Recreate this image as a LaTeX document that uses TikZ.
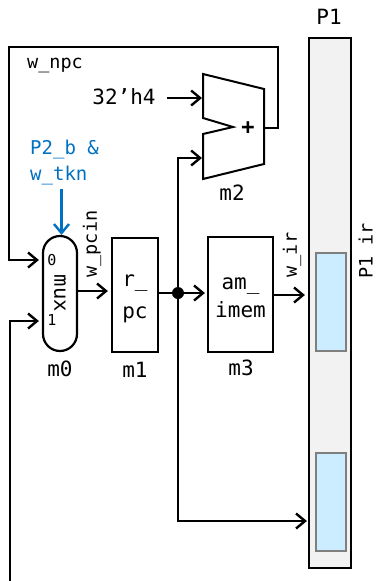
\documentclass[tikz,border=0pt]{standalone}
\usepackage{fontspec}
\setmonofont{DejaVu Sans Mono}
\usetikzlibrary{arrows.meta}
\definecolor{tknblue}{RGB}{0,112,192}
\definecolor{stagegray}{RGB}{242,242,242}
\definecolor{slotblue}{RGB}{204,236,255}
\definecolor{slotedge}{RGB}{127,127,127}
\tikzset{
  barbtip/.tip={Straight Barb[length=9pt,width=15pt,line width=2.4pt]},
  wire/.style={line width=2.3pt, -barbtip},
  thinwire/.style={line width=1.7pt, -barbtip},
  blockbox/.style={draw, line width=2.2pt, inner sep=0pt, align=center},
  slotbox/.style={draw=slotedge, fill=slotblue, line width=2.2pt, inner sep=0pt},
  lblsm/.style={font=\ttfamily\fontsize{18.5}{26}\selectfont, inner sep=0pt, align=left},
  lblbig/.style={font=\ttfamily\fontsize{21}{28}\selectfont, inner sep=0pt, align=center},
}
\begin{document}
\begin{tikzpicture}[x=1pt,y=-1pt]
  \useasboundingbox (0,0) rectangle (378,581);

  % Etapa P1
  \node[blockbox, fill=stagegray, minimum width=42pt, minimum height=530pt] (p1) at (330,303) {};
  \node[slotbox, minimum width=30pt, minimum height=98pt] (s1) at (331,302) {};
  \node[slotbox, minimum width=30pt, minimum height=98pt] (s2) at (331,502) {};
  \node[lblbig] (p1t) at (329,17) {P1};
  \node[lblsm, rotate=90] (p1ir) at (365.5,251) {P1 ir};

  % Bloques
  \node[blockbox, minimum width=46pt, minimum height=114pt] (m1) at (135,295) {};
  \node[lblbig, font=\ttfamily\fontsize{21}{32}\selectfont] (m1txt) at (135,299) {r\_\\pc};
  \node[blockbox, minimum width=65pt, minimum height=115pt] (m3) at (240.5,294.5) {};
  \node[lblbig] (m3txt) at (240.5,298) {am\_\\imem};
  \node[blockbox, rounded corners=17pt, minimum width=34pt, minimum height=115pt] (m0) at (60,293.5) {};
  \node[lblsm, font=\ttfamily\fontsize{20.5}{26}\selectfont, rotate=-90] (muxt) at (60,293.5) {mux};
  \node[font=\ttfamily\fontsize{15}{15}\selectfont, inner sep=0pt] (d0) at (52,260) {0};
  \node[font=\ttfamily\fontsize{15}{15}\selectfont, inner sep=0pt] (d1) at (52,320) {1};
  \node[lblbig] (m0t) at (60,369) {m0};
  \node[lblbig] (m1t) at (135,370) {m1};
  \node[lblbig] (m3t) at (241,368) {m3};

  % Sumador
  \draw[line width=2pt, line join=miter] (203,74) -- (264,89) -- (264,164) -- (203,179) -- (203,134)
    -- (233,127) -- (203,118) -- cycle;
  \coordinate (addin1) at (202,98);
  \coordinate (addin2) at (202,158);
  \coordinate (addout) at (264,128);
  \node[font=\ttfamily\bfseries\fontsize{22}{22}\selectfont, inner sep=0pt] (plus) at (248,128) {+};
  \node[lblbig] (m2t) at (232,193) {m2};

  % Etiquetas
  \node[lblsm] (npct) at (55,65) {w\_npc};
  \node[lblbig] (h4t) at (124,97) {32’h4};
  \node[lblsm, font=\ttfamily\fontsize{19}{26}\selectfont, text=tknblue, anchor=north west] (tknt) at (30,140) {P2\_b \&\\w\_tkn};
  \node[lblsm, rotate=90] (pcint) at (92,244) {w\_pcin};
  \node[lblsm, rotate=90] (irt) at (292,255) {w\_ir};

  % Cables
  \coordinate (junc) at (178,293);
  \coordinate (npcup) at (278,47);
  \coordinate (npcleft) at (9,47);
  \coordinate (low) at (10,581);
  \coordinate (tkntop) at (61.5,189);
  \draw[wire] (167,98) -- (addin1);
  \draw[thinwire] (addout) -- (npcup |- addout) -- (npcup) -- (npcleft) -- (9,260) -- ([xshift=-3pt]m0.west |- 0,260);
  \draw[thinwire] (low) -- (10,321) -- ([xshift=-3pt]m0.west |- 0,321);
  \draw[wire, tknblue] (tkntop) -- (m0.north -| tkntop);
  \draw[wire] (m0.east |- 0,291) -- ([xshift=-3pt]m1.west |- 0,291);
  \draw[line width=2.3pt] (m1.east |- junc) -- (junc);
  \draw[wire] (junc) -- ([xshift=-2pt]m3.west |- junc);
  \draw[wire] (junc) -- (178,158) -- (addin2);
  \draw[wire] (junc) -- (178,521) -- ([xshift=-1pt]p1.west |- 0,521);
  \draw[wire] (m3.east |- 0,295) -- ([xshift=-3pt]p1.west |- 0,295);
  \fill (junc) circle [radius=6pt];
\end{tikzpicture}
\end{document}
